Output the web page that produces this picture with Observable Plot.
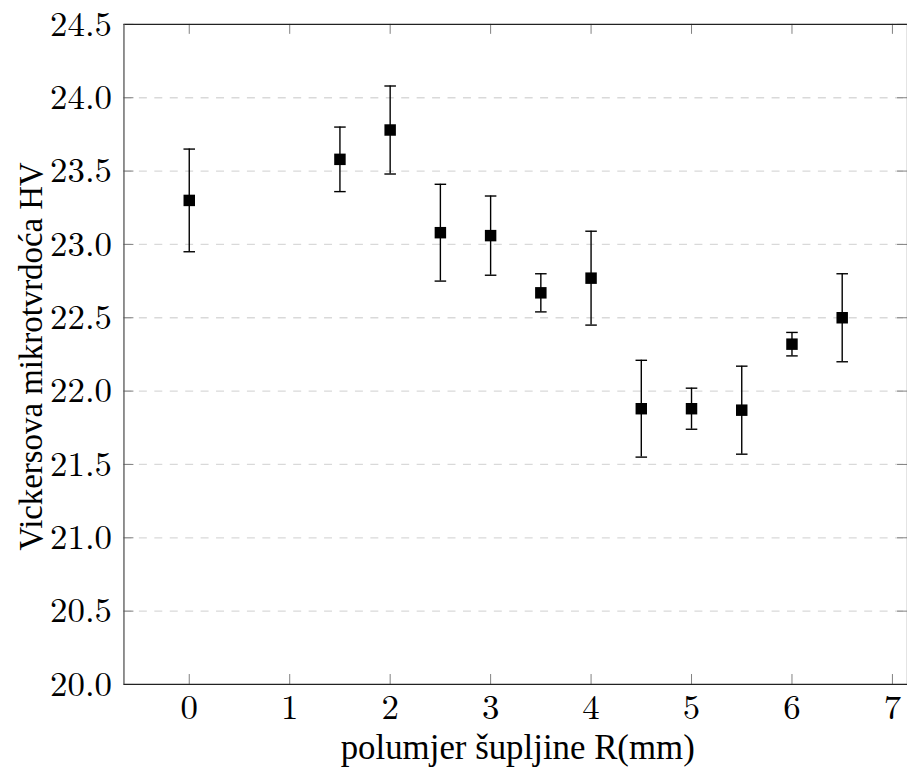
<!DOCTYPE html>
<html>
<head>
<meta charset="utf-8">
<script src="https://cdn.jsdelivr.net/npm/d3@7"></script>
<script src="https://cdn.jsdelivr.net/npm/@observablehq/plot@0.6"></script>
<style>
  html, body { margin: 0; padding: 0; background: #fff; }
  #wrap { width: 907px; height: 774px; overflow: hidden; }
</style>
</head>
<body>
<div id="wrap"></div>
<script>
const radius   = [0, 1.5, 2, 2.5, 3, 3.5, 4, 4.5, 5, 5.5, 6, 6.5];
const hardness = [23.30, 23.58, 23.78, 23.08, 23.06, 22.67, 22.77, 21.88, 21.88, 21.87, 22.32, 22.50];
const errors   = [0.35, 0.22, 0.30, 0.33, 0.27, 0.13, 0.32, 0.33, 0.14, 0.30, 0.08, 0.30];
const xTicks = [0, 1, 2, 3, 4, 5, 6, 7];
const yTicks = [20.0, 20.5, 21.0, 21.5, 22.0, 22.5, 23.0, 23.5, 24.0, 24.5];
const xDomain = [-0.65, 7.15];
const yDomain = [20, 24.5];
const xLabel = "polumjer šupljine R(mm)";
const yLabel = "Vickersova mikrotvrdoća HV";

const data = radius.map((r, i) => ({r, v: hardness[i], lo: hardness[i] - errors[i], hi: hardness[i] + errors[i]}));

const W = 911, H = 774, mL = 124, mR = 0, mT = 24, mB = 87;
const innerW = W - mL - mR, innerH = H - mT - mB;
const tick = 10;
const tickFont = "Latin Modern Roman, Liberation Serif, serif";
const labelFont = "Liberation Serif, serif";

const capSymbol = {
  draw(ctx, size) {
    const r = Math.sqrt(size / Math.PI);
    ctx.moveTo(-r, 0);
    ctx.lineTo(r, 0);
  }
};

const chart = Plot.plot({
  width: W, height: H,
  marginLeft: mL, marginRight: mR, marginTop: mT, marginBottom: mB,
  x: {domain: xDomain, axis: null},
  y: {domain: yDomain, axis: null},
  style: {background: "#fff", overflow: "visible", fontFamily: labelFont},
  marks: [
    Plot.ruleY(yTicks.slice(1, -1), {stroke: "#d9d9d9", strokeWidth: 1.3, strokeDasharray: "8,7.5"}),
    Plot.ruleX(xTicks, {x: d => d, insetTop: innerH - tick, stroke: "#808080", strokeWidth: 1}),
    Plot.ruleX(xTicks, {x: d => d, insetBottom: innerH - tick, stroke: "#808080", strokeWidth: 1}),
    Plot.ruleY(yTicks, {y: d => d, insetRight: innerW - tick, stroke: "#808080", strokeWidth: 1}),
    Plot.ruleY(yTicks, {y: d => d, insetLeft: innerW - tick, stroke: "#808080", strokeWidth: 1}),
    Plot.ruleY([yDomain[0], yDomain[1]], {stroke: "#222", strokeWidth: 1.3}),
    Plot.ruleX([xDomain[0], xDomain[1]], {stroke: "#555", strokeWidth: 1.3}),
    Plot.axisX({ticks: xTicks, tickSize: 0, tickPadding: 10, fontSize: 35, fontFamily: tickFont, tickFormat: d3.format("d"), label: null, anchor: "bottom", fill: "#000"}),
    Plot.axisY({ticks: yTicks, tickSize: 0, tickPadding: 12, fontSize: 35, fontFamily: tickFont, tickFormat: d3.format(".1f"), label: null, anchor: "left", fill: "#000"}),
    Plot.text([xLabel], {text: d => d, frameAnchor: "bottom", textAnchor: "middle", lineAnchor: "bottom", dy: 75, dx: 2, fontSize: 35, fontFamily: labelFont, fill: "#000"}),
    Plot.text([yLabel], {text: d => d, frameAnchor: "left", textAnchor: "middle", lineAnchor: "bottom", rotate: -90, dx: -82, dy: 2, fontSize: 33, fontFamily: labelFont, fill: "#000"}),
    Plot.ruleX(data, {x: "r", y1: "lo", y2: "hi", stroke: "#000", strokeWidth: 1.4}),
    Plot.dot(data, {x: "r", y: "lo", symbol: capSymbol, r: 5.8, stroke: "#000", strokeWidth: 1.4, fill: "none"}),
    Plot.dot(data, {x: "r", y: "hi", symbol: capSymbol, r: 5.8, stroke: "#000", strokeWidth: 1.4, fill: "none"}),
    Plot.dot(data, {x: "r", y: "v", symbol: "square", r: 6.5, fill: "#000", stroke: "none"})
  ]
});
document.getElementById("wrap").appendChild(chart);
</script>
</body>
</html>
